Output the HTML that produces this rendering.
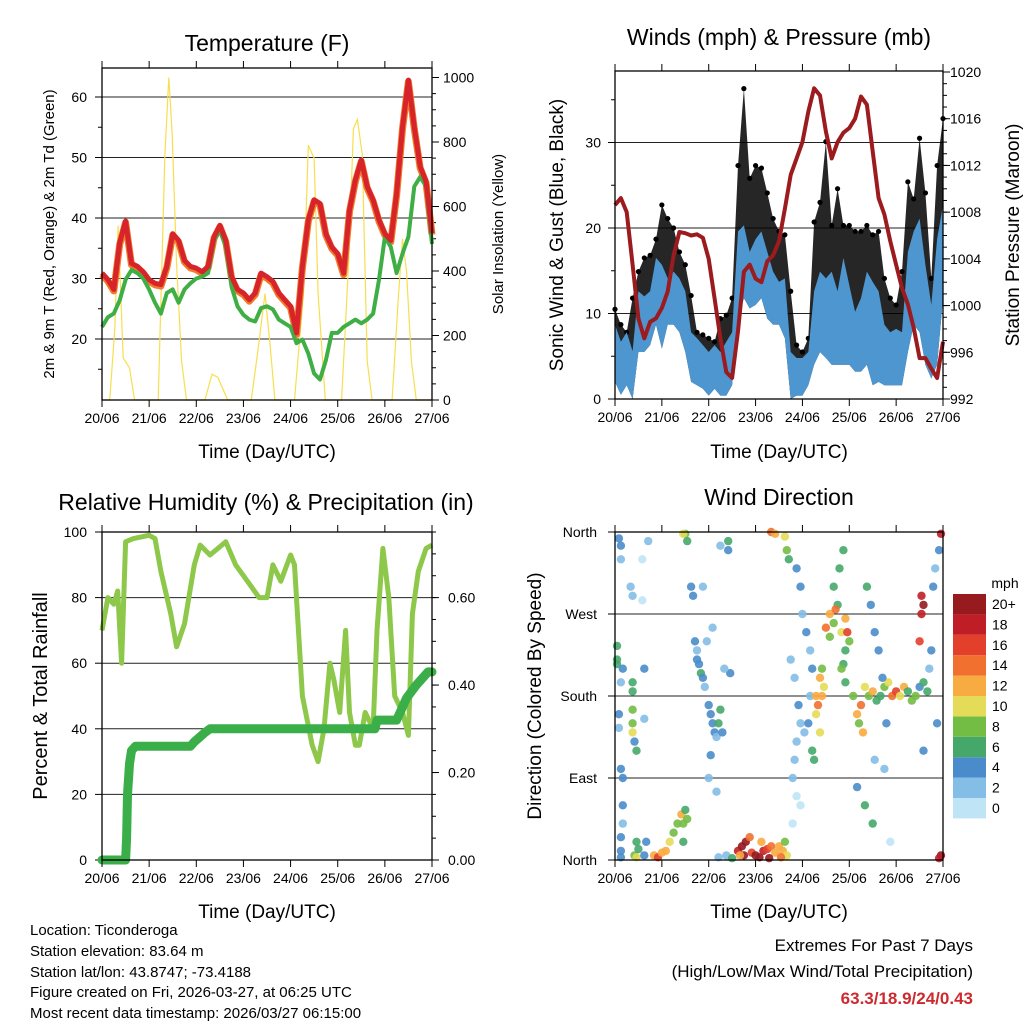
<!DOCTYPE html>
<html><head><meta charset="utf-8"><style>
html,body{margin:0;padding:0;background:#fff;}
svg{display:block;font-family:"Liberation Sans",sans-serif;}
</style></head><body>
<svg id="c" width="1024" height="1024" viewBox="0 0 1024 1024" xmlns="http://www.w3.org/2000/svg">
<g><text x="267" y="51" font-size="23" text-anchor="middle">Temperature (F)</text></g>
<text x="779" y="45" font-size="23" text-anchor="middle">Winds (mph) &amp; Pressure (mb)</text>
<text x="266" y="510" font-size="23" text-anchor="middle">Relative Humidity (%) &amp; Precipitation (in)</text>
<text x="779" y="505" font-size="23" text-anchor="middle">Wind Direction</text>
<text x="267" y="458" font-size="19" text-anchor="middle">Time (Day/UTC)</text>
<text x="779" y="458" font-size="19" text-anchor="middle">Time (Day/UTC)</text>
<text x="267" y="918" font-size="19" text-anchor="middle">Time (Day/UTC)</text>
<text x="779" y="918" font-size="19" text-anchor="middle">Time (Day/UTC)</text>
<text transform="translate(54,234) rotate(-90)" font-size="15" text-anchor="middle">2m &amp; 9m T (Red, Orange) &amp; 2m Td (Green)</text>
<text transform="translate(503,234) rotate(-90)" font-size="15" text-anchor="middle">Solar Insolation (Yellow)</text>
<text transform="translate(563,235) rotate(-90)" font-size="19" text-anchor="middle">Sonic Wind &amp; Gust (Blue, Black)</text>
<text transform="translate(1019,235) rotate(-90)" font-size="19" text-anchor="middle">Station Pressure (Maroon)</text>
<text transform="translate(47,696) rotate(-90)" font-size="20" text-anchor="middle">Percent &amp; Total Rainfall</text>
<text transform="translate(541,696) rotate(-90)" font-size="19" text-anchor="middle">Direction (Colored By Speed)</text>
<g font-size="15">
<text x="30" y="935">Location: Ticonderoga</text>
<text x="30" y="956">Station elevation: 83.64 m</text>
<text x="30" y="977">Station lat/lon: 43.8747; -73.4188</text>
<text x="30" y="997">Figure created on Fri, 2026-03-27, at 06:25 UTC</text>
<text x="30" y="1018">Most recent data timestamp: 2026/03/27 06:15:00</text>
</g>
<g font-size="17" text-anchor="end">
<text x="973" y="951">Extremes For Past 7 Days</text>
<text x="973" y="977">(High/Low/Max Wind/Total Precipitation)</text>
<text x="973" y="1004" font-weight="bold" fill="#cc2a2f">63.3/18.9/24/0.43</text>
</g>
</svg>
<script>
const dayLabels=["20/06","21/06","22/06","23/06","24/06","25/06","26/06","27/06"];
const tempF=[30.9,29.8,28.2,35.9,39.5,32.5,32.0,31.1,29.8,29.2,29.0,32,37.4,36.3,33,32,31.7,31.1,32,36.9,38.8,36.3,30.3,28.2,27.6,26.5,27.6,30.9,30.3,29.5,27.6,26.5,25.4,21,32,39.7,43,42.4,37.4,35.2,34.1,30.9,41.3,46.3,49.6,45.2,43,39.7,37.4,36.3,44,55,62.8,55,48.5,46,37.5];
const dewF=[22,23.6,24.2,26.4,29.8,31.4,30.9,30,28.2,26,24.2,27.6,28.2,26,28.2,29.2,30,30.3,30.9,36.3,38,35.2,28.6,25.4,24,23.2,22.9,25.1,25.4,24.9,23.2,22.6,22,19.3,19.9,17.6,14.3,13.3,16.5,21,21,22,22.6,23.2,22.6,23.2,24.2,29.8,36.9,35.2,30.9,34.1,36.9,45.2,46.8,45.2,35.7];
const solarHours=[0,3.9,6.5,8.2,10.8,14,16.6,28.6,32,34,35.7,38,40.5,43,52.4,56,59,64,76,79.7,83,85.6,88,98,102.6,105,108,110,113.7,122,125.6,128,130,132.5,135,137.5,147.7,151,153,155,157.5,160,168];
const solarWm2=[0,0,220,540,130,100,0,0,760,1000,830,420,120,0,0,80,70,0,0,170,330,170,0,0,330,790,750,330,0,0,430,840,870,760,120,0,0,330,500,400,120,0,0];
const windLow=[2,0.5,1.6,0,5.5,5.5,6.3,8.7,5.9,8.7,8.7,7.8,5.5,2,1.6,1.2,0.4,1.2,0.4,0.4,1.6,9.4,11.8,10.6,11,11.8,9.4,8.7,8.7,7.1,0,0.4,0.4,1.6,4,5.5,4.8,4,4,4,4,3.2,3.2,4,1.6,2,1.6,1.6,1.6,1.6,5.5,8.7,7.8,4,2.4,4,11.8];
const windHigh=[8.7,6.7,7.8,5.6,12.6,12,12.6,16.5,15.7,14.1,14.9,14.1,12.6,7.8,7.1,6.3,5.5,6.3,5.5,6.7,7.8,19.6,20.3,17.2,18.7,19.6,17.2,14.9,13.7,14.1,5.5,4.8,4.8,5.5,12.6,14.9,14.1,14.9,12.6,16.5,13.3,10.2,11.8,14.9,13.7,12.6,8.7,7.8,8.2,7.8,17.2,19.6,21.1,15.7,11,18.7,22.7];
const gustHigh=[10.5,8.7,7.8,11.8,14.9,16.5,16.8,18.7,22.7,21.1,20,17.2,15.7,12.1,7.8,7.5,7.1,6.7,9.4,9.8,11.8,27.3,36.3,25.8,27.3,27,24.1,21.1,19.6,19.2,12.6,6.3,5.5,7.1,20.7,23,30.1,20.3,24.6,20.3,20.3,19.6,19.6,20.3,19.2,19.6,14.1,11.8,11,14.9,25.4,23.4,30.5,24.1,14.1,27.3,32.8];
const pressureMb=[1008.6,1009.2,1008,1003.5,998.9,997.2,998.6,998.9,999.8,1001.2,1004.3,1006.3,1006.2,1006,1006.1,1005.8,1004,1000.6,997.2,994.3,993.8,997.8,1002.9,1003.5,1002.3,1002,1003.8,1004.3,1005.5,1008.3,1011.2,1012.6,1014,1016.6,1018.6,1018,1014.9,1012.6,1014,1014.8,1015.2,1016,1017.9,1017.2,1013.2,1009.2,1007.8,1005.5,1003.5,1001.5,1000.1,998.1,995.5,995.5,994.6,993.8,996.9];
const rhHours=[0,3,6,8,10,12,16,24,27,30,35,38,42,47,50,55,63,68,74,80,84,87,91,96,98,102,107,110,113,116,118,121,124,126,129,131,134,138,140,143,146,149,153,156,158,161,165,168];
const rhPct=[70,80,78,82,60,97,98,99,98,88,75,65,72,90,96,93,97,90,85,80,80,90,85,93,90,50,35,30,40,60,55,45,70,45,35,35,45,40,70,95,80,50,45,38,75,88,95,96];
const precipHours=[0,12,12.5,13,14,15,17,45,47,52,55,139,140,150,152,155,160,166,168];
const precipIn=[0,0,0.05,0.15,0.22,0.25,0.26,0.26,0.27,0.29,0.3,0.3,0.32,0.32,0.34,0.37,0.40,0.43,0.43];
const wdHours=[2,3,3,1,1,1,4,3,2,2,3,4,4,4,3,3,3,8,9,10,11,11,12,9,9,9,9,9,10,11,14,14,15,15,15,16,17,20,22,24,26,28,30,32,34,35,36,37,36,37,35,35,39,40,41,42,42,43,44,45,46,48,49,50,51,52,53,55,54,47,50,45,48,52,49,57,53,60,58,58,54,59,56,63,65,67,66,70,72,74,76,78,80,82,84,86,88,85,79,69,64,75,87,80,82,87,88,89,90,92,94,95,93,92,91,93,95,91,93,95,96,98,100,101,100,99,97,101,102,103,104,103,105,106,107,106,105,108,110,112,114,116,118,112,115,117,110,119,113,120,118,117,116,118,122,124,126,128,130,132,134,136,138,140,142,144,125,127,129,131,133,135,137,139,133,138,128,132,141,124,146,148,150,152,154,156,158,160,157,158,157,156,161,162,163,164,166,167,167,166,158,165];
const wdDeg=[353,345,330,235,220,215,210,195,160,145,100,90,60,40,25,10,3,300,290,5,3,20,12,195,185,165,150,140,130,120,330,285,210,155,5,20,350,5,3,8,10,20,30,40,50,40,55,45,358,350,358,20,300,290,240,230,220,215,205,200,190,170,160,150,140,135,150,140,165,240,255,300,90,75,115,5,3,2,350,340,345,205,210,10,15,20,5,8,5,3,10,12,15,8,15,10,5,3,2,25,5,20,20,360,358,355,340,330,220,200,170,150,130,110,90,70,60,40,320,300,270,250,230,210,180,150,140,120,110,180,170,160,200,180,190,210,140,255,270,260,280,250,265,300,320,340,245,250,275,240,230,215,210,195,180,160,170,190,180,185,175,180,190,195,180,185,150,140,300,280,250,230,200,150,110,100,60,40,20,80,180,190,185,175,180,190,195,185,270,280,290,240,210,230,300,320,340,358,5,2,120,150];
const wdSpeed=[4,4,2,7,7,6,4,3,4,3,4,4,4,3,4,4,5,2,3,9,11,6,7,6,7,8,9,11,5,6,1,1,4,2,4,4,3,12,16,13,12,10,8,8,12,9,7,9,8,7,11,7,4,4,4,3,5,4,6,4,3,4,5,4,4,3,6,5,7,3,2,2,3,2,4,3,2,6,6,4,2,4,2,18,20,22,20,16,20,22,18,16,14,12,13,12,10,14,20,14,12,12,9,14,12,10,8,7,2,2,4,2,3,3,2,1,1,1,4,4,3,4,3,4,3,4,2,6,6,12,14,10,12,12,11,8,10,14,12,8,6,10,12,6,6,7,8,16,14,9,6,7,8,7,8,12,14,10,8,12,7,6,8,10,15,16,8,12,6,4,4,4,4,4,2,3,7,7,1,4,10,12,6,9,8,4,6,7,18,20,18,16,3,4,4,3,4,19,20,18,4,5];
const speedBins=["0","2","4","6","8","10","12","14","16","18","20+"];
const speedColors=["#bfe4f6","#84bde5","#4a8ccb","#45a86a","#74bd45","#e4dc58","#f8ab40","#f1702f","#e2402b","#c01e27","#961a1e"];

const NS="http://www.w3.org/2000/svg";
const svg=document.getElementById('c');
function mk(tag,attrs,parent){const e=document.createElementNS(NS,tag);for(const k in attrs)e.setAttribute(k,attrs[k]);(parent||svg).appendChild(e);return e;}
function lin(d0,d1,p0,p1){return v=>p0+(v-d0)*(p1-p0)/(d1-d0);}
function pts(xs,ys,fx,fy){return xs.map((x,i)=>fx(x).toFixed(1)+","+fy(ys[i]).toFixed(1)).join(" ");}
const hrs3=tempF.map((_,i)=>i*3);

function panel(name){
  const g=mk('g',{});
  
  
  return g;
}
function frame(g,x0,x1,y0,y1,sx){
  const r=mk('rect',{x:x0,y:y0,width:x1-x0,height:y1-y0,fill:'none',stroke:'#000','stroke-width':1.3},g);
  
  
  dayLabels.forEach((d,i)=>{
    const x=sx(i*24);
    mk('line',{x1:x,x2:x,y1:y1,y2:y1+7,stroke:'#000'},g);
    mk('line',{x1:x,x2:x,y1:y0,y2:y0-7,stroke:'#000'},g);
    const t=mk('text',{x:x,y:y1+23,'font-size':14,'text-anchor':'middle'},g);
    t.textContent=d;
    
    
  });
}
function leftAxis(g,x0,x1,sy,ticks,labels,minors,grid,lx){
  minors.forEach(v=>mk('line',{x1:x0-4,x2:x0,y1:sy(v),y2:sy(v),stroke:'#000'},g));
  ticks.forEach((v,i)=>{
    const y=sy(v);
    mk('line',{x1:x0-7,x2:x0,y1:y,y2:y,stroke:'#000'},g);
    if(grid) mk('line',{x1:x0,x2:x1,y1:y,y2:y,stroke:'#222','stroke-width':1},g);
    const t=mk('text',{x:lx,y:y+5,'font-size':14,'text-anchor':'end'},g);
    t.textContent=labels[i];
    
    
  });
}
function rightAxis(g,x1,sy,ticks,labels,minors,lx){
  minors.forEach(v=>mk('line',{x1:x1,x2:x1+4,y1:sy(v),y2:sy(v),stroke:'#000'},g));
  ticks.forEach((v,i)=>{
    const y=sy(v);
    mk('line',{x1:x1,x2:x1+7,y1:y,y2:y,stroke:'#000'},g);
    const t=mk('text',{x:lx,y:y+5,'font-size':14},g);
    t.textContent=labels[i];
    
    
  });
}
function range(a,b,s){const r=[];for(let v=a;v<=b+1e-9;v+=s)r.push(+v.toFixed(4));return r;}

// Panel 1 temperature
{
 const x0=102,x1=432,y0=68,y1=400;
 const sx=lin(0,168,x0,x1), sy=lin(20,60,339,97), ss=lin(0,1000,400,77.5);
 const g=panel('temperature-panel');
 leftAxis(g,x0,x1,sy,[20,30,40,50,60],["20","30","40","50","60"],range(15,60,5),true,87);
 rightAxis(g,x1,ss,[0,200,400,600,800,1000],["0","200","400","600","800","1000"],range(0,1000,50),443);
 const s=mk('polyline',{points:pts(solarHours,solarWm2,sx,ss),fill:'none',stroke:'#f8de4e','stroke-width':1.2},g);
  
 const o=mk('polyline',{points:pts(hrs3,tempF,sx,sy),fill:'none',stroke:'#f07a2a','stroke-width':7,'stroke-linejoin':'round',transform:'translate(0,1.5)'},g);
  
 const d=mk('polyline',{points:pts(hrs3,dewF,sx,sy),fill:'none',stroke:'#3fae45','stroke-width':4,'stroke-linejoin':'round'},g);
  
 const r=mk('polyline',{points:pts(hrs3,tempF,sx,sy),fill:'none',stroke:'#d7232a','stroke-width':5,'stroke-linejoin':'round'},g);
  
 frame(g,x0,x1,y0,y1,sx);
}
// Panel 2 winds
{
 const x0=615,x1=943,y0=71,y1=399;
 const sx=lin(0,168,x0,x1), sy=lin(0,10,399,313.5), sp=lin(992,1020,399,72);
 const g=panel('winds-panel');
 leftAxis(g,x0,x1,sy,[0,10,20,30],["0","10","20","30"],range(0,35,5),true,601);
 rightAxis(g,x1,sp,range(992,1020,4),range(992,1020,4).map(String),range(992,1020,1),950);
 const gpoly=hrs3.map((h,i)=>sx(h).toFixed(1)+","+sy(gustHigh[i]).toFixed(1)).concat(hrs3.slice().reverse().map((h,j)=>{const i=hrs3.length-1-j;return sx(h).toFixed(1)+","+sy(windLow[i]).toFixed(1);}));
 const gu=mk('polygon',{points:gpoly.join(" "),fill:'#000','fill-opacity':0.85},g);
  
 gustHigh.forEach((v,i)=>{const c=mk('circle',{cx:sx(hrs3[i]),cy:sy(v),r:2.6,fill:'#000'},g);
   });
 const wpoly=hrs3.map((h,i)=>sx(h).toFixed(1)+","+sy(windHigh[i]).toFixed(1)).concat(hrs3.slice().reverse().map((h,j)=>{const i=hrs3.length-1-j;return sx(h).toFixed(1)+","+sy(windLow[i]).toFixed(1);}));
 const w=mk('polygon',{points:wpoly.join(" "),fill:'#4e96d0'},g);
  
 const p=mk('polyline',{points:pts(hrs3,pressureMb,sx,sp),fill:'none',stroke:'#9b1b1e','stroke-width':4,'stroke-linejoin':'round'},g);
  
 frame(g,x0,x1,y0,y1,sx);
}
// Panel 3 RH
{
 const x0=102,x1=432,y0=532,y1=860;
 const sx=lin(0,168,x0,x1), sy=lin(0,100,860,532), sp=lin(0,0.75,860,532);
 const g=panel('humidity-panel');
 leftAxis(g,x0,x1,sy,[0,20,40,60,80,100],["0","20","40","60","80","100"],[],true,87);
 rightAxis(g,x1,sp,[0,0.2,0.4,0.6],["0.00","0.20","0.40","0.60"],range(0,0.75,0.05),448);
 const r=mk('polyline',{points:pts(rhHours,rhPct,sx,sy),fill:'none',stroke:'#8dc84a','stroke-width':5,'stroke-linejoin':'round'},g);
  
 const p=mk('polyline',{points:pts(precipHours,precipIn,sx,sp),fill:'none',stroke:'#3aae48','stroke-width':9,'stroke-linejoin':'round','stroke-linecap':'round'},g);
  
 frame(g,x0,x1,y0,y1,sx);
}
// Panel 4 wind direction
{
 const x0=615,x1=943,y0=532,y1=860;
 const sx=lin(0,168,x0,x1), sy=lin(0,360,860,532);
 const g=panel('wind-direction-panel');
 leftAxis(g,x0,x1,sy,[0,90,180,270,360],["North","East","South","West","North"],[],true,597);
 wdHours.forEach((h,i)=>{
  const idx=Math.min(10,Math.floor(wdSpeed[i]/2));
  const c=mk('circle',{cx:sx(h).toFixed(1),cy:sy(wdDeg[i]).toFixed(1),r:4.2,fill:speedColors[idx],'fill-opacity':0.9},g);
  
  
 });
 frame(g,x0,x1,y0,y1,sx);
 const cb=mk('g',{});
 
 
 const tt=mk('text',{x:1005,y:588,'font-size':14,'text-anchor':'middle'},cb);
 tt.textContent='mph';
 speedBins.forEach((lab,i)=>{
  const y=798-i*20.4;
  const r=mk('rect',{x:953,y:y,width:33,height:20.4,fill:speedColors[i]},cb);
  
  
  const t=mk('text',{x:992,y:y+15,'font-size':14},cb);
  t.textContent=lab;
  
  
 });
}
</script>
</body></html>
